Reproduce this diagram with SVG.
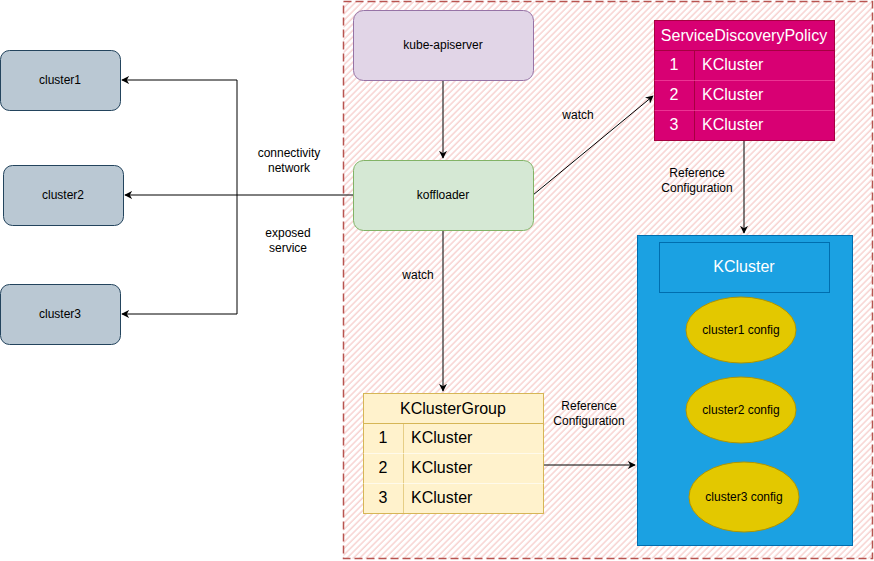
<svg xmlns="http://www.w3.org/2000/svg" width="874" height="561" viewBox="0 0 874 561">
<defs>
<pattern id="hatch" width="4.5" height="4.5" patternUnits="userSpaceOnUse" patternTransform="rotate(45)">
<line x1="1" y1="0" x2="1" y2="4.5" stroke="#f2b0ae" stroke-width="1" stroke-opacity="0.85"/>
</pattern>
<marker id="arr" viewBox="0 0 10 10" refX="9" refY="5" markerWidth="8" markerHeight="8" orient="auto" markerUnits="userSpaceOnUse">
<path d="M0,0 L10,5 L0,10 L3,5 Z" fill="#000"/>
</marker>
</defs>
<style>
text{font-family:"Liberation Sans",Arial,Helvetica,sans-serif;}
.s{font-size:12px;fill:#000;text-anchor:middle;dominant-baseline:central;}
.t{font-size:16px;dominant-baseline:central;}
.c{text-anchor:middle;}
.w{fill:#fff;}
.k{fill:#000;}
.edge{fill:none;stroke:#000;stroke-width:1;}
.cl{fill:#bac8d3;stroke:#23445d;stroke-width:1;}
.ell{fill:#e3c800;stroke:#b09500;stroke-width:1;}
</style>
<rect id="container" x="343.5" y="1.5" width="529" height="557" fill="url(#hatch)" stroke="#b85450" stroke-width="1.5" stroke-dasharray="8 4"/>

<g id="connectors">
<path class="edge" d="M443,80 L443,158" marker-end="url(#arr)"/>
<path class="edge" d="M353,195 L125,195" marker-end="url(#arr)"/>
<path class="edge" d="M237,80 L237,314"/>
<path class="edge" d="M237,80 L122,80" marker-end="url(#arr)"/>
<path class="edge" d="M237,314 L122,314" marker-end="url(#arr)"/>
<path class="edge" d="M533,195 L653,96" marker-end="url(#arr)"/>
<path class="edge" d="M443,230 L443,391" marker-end="url(#arr)"/>
<path class="edge" d="M744,140 L744,233" marker-end="url(#arr)"/>
<path class="edge" d="M543,465 L635,465" marker-end="url(#arr)"/>
<text class="s" x="289" y="153">connectivity</text>
<text class="s" x="289" y="168">network</text>
<text class="s" x="288" y="233">exposed</text>
<text class="s" x="288" y="248">service</text>
<text class="s" x="578" y="115">watch</text>
<text class="s" x="418" y="275">watch</text>
<text class="s" x="697" y="173">Reference</text>
<text class="s" x="697" y="188">Configuration</text>
<text class="s" x="589" y="406">Reference</text>
<text class="s" x="589" y="421">Configuration</text>
</g>

<g id="kube-apiserver">
<rect x="353.5" y="10.5" width="180" height="70" rx="10" fill="#e1d5e7" stroke="#9673a6"/>
<text class="s" x="443" y="45">kube-apiserver</text>
</g>
<g id="koffloader">
<rect x="353.5" y="160.5" width="180" height="70" rx="10" fill="#d5e8d4" stroke="#82b366"/>
<text class="s" x="443" y="195">koffloader</text>
</g>
<g id="cluster1">
<rect class="cl" x="0.5" y="50.5" width="120" height="60" rx="9"/>
<text class="s" x="60" y="80">cluster1</text>
</g>
<g id="cluster2">
<rect class="cl" x="3.5" y="165.5" width="120" height="60" rx="9"/>
<text class="s" x="63" y="195">cluster2</text>
</g>
<g id="cluster3">
<rect class="cl" x="0.5" y="284.5" width="120" height="60" rx="9"/>
<text class="s" x="60" y="314">cluster3</text>
</g>

<g id="ServiceDiscoveryPolicy">
<rect x="654.5" y="20.5" width="180" height="120" fill="#d80073" stroke="#a50040"/>
<path d="M654.5,50.5 H834.5 M694.5,50.5 V140.5" stroke="#a50040" fill="none"/>
<path d="M654.5,80.5 H834.5 M654.5,110.5 H834.5" stroke="#ff66b3" stroke-opacity="0.5" fill="none"/>
<text class="t w c" x="744" y="35.5">ServiceDiscoveryPolicy</text>
<text class="t w c" x="674" y="64.5">1</text>
<text class="t w" x="702" y="64.5">KCluster</text>
<text class="t w c" x="674" y="94.5">2</text>
<text class="t w" x="702" y="94.5">KCluster</text>
<text class="t w c" x="674" y="124.5">3</text>
<text class="t w" x="702" y="124.5">KCluster</text>
</g>

<g id="KClusterGroup">
<rect x="363.5" y="393.5" width="180" height="120" fill="#fff2cc" stroke="#d6b656"/>
<path d="M363.5,423.5 H543.5" stroke="#d6b656" fill="none"/>
<path d="M403.5,423.5 V513.5" stroke="#d6b656" stroke-opacity="0.6" fill="none"/>
<path d="M363.5,453.5 H543.5 M363.5,483.5 H543.5" stroke="#ffffff" stroke-opacity="0.6" fill="none"/>
<text class="t k c" x="453" y="408.5">KClusterGroup</text>
<text class="t k c" x="383" y="437.5">1</text>
<text class="t k" x="411" y="437.5">KCluster</text>
<text class="t k c" x="383" y="467.5">2</text>
<text class="t k" x="411" y="467.5">KCluster</text>
<text class="t k c" x="383" y="497.5">3</text>
<text class="t k" x="411" y="497.5">KCluster</text>
</g>

<g id="KCluster">
<rect x="637.5" y="235.5" width="215" height="310" fill="#1ba1e2" stroke="#006eaf"/>
<rect x="659.5" y="242.5" width="170" height="50" fill="#1ba1e2" stroke="#006eaf"/>
<text class="t w c" x="744" y="266.5">KCluster</text>
</g>
<g id="cluster1-config">
<ellipse class="ell" cx="741" cy="330" rx="55" ry="33"/>
<text class="s" x="741" y="330">cluster1 config</text>
</g>
<g id="cluster2-config">
<ellipse class="ell" cx="741" cy="410" rx="55" ry="33"/>
<text class="s" x="741" y="410">cluster2 config</text>
</g>
<g id="cluster3-config">
<ellipse class="ell" cx="744" cy="497" rx="55" ry="35"/>
<text class="s" x="744" y="497">cluster3 config</text>
</g>
</svg>
